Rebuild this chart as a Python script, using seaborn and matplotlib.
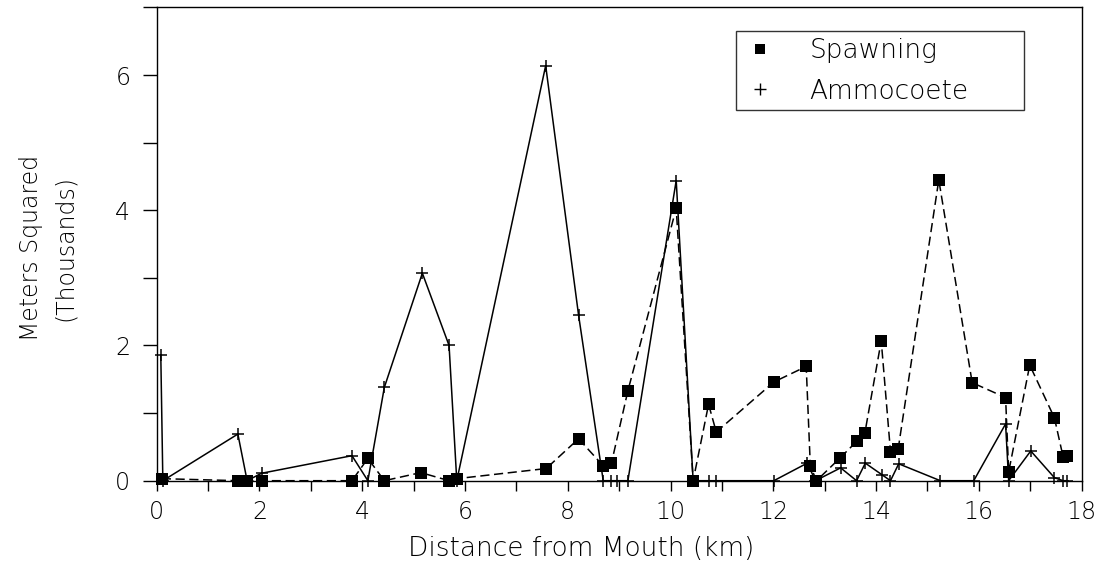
import matplotlib
matplotlib.use("Agg")
import matplotlib.pyplot as plt
from matplotlib.lines import Line2D
from matplotlib.ticker import MultipleLocator
import seaborn as sns
import pandas as pd

# ---- data (thousands of square meters vs km from mouth) ----
spawn_x = [0.10, 1.59, 1.75, 2.04, 3.80, 4.11, 4.43, 5.14, 5.69, 5.84, 7.58, 8.21,
           8.69, 8.85, 9.17, 10.11, 10.44, 10.74, 10.89, 12.01, 12.64, 12.72, 12.84,
           13.29, 13.62, 13.78, 14.10, 14.28, 14.43, 15.22, 15.87, 16.52, 16.58,
           16.99, 17.47, 17.64, 17.72]
spawn_y = [0.03, 0.0, 0.0, 0.0, 0.0, 0.33, 0.0, 0.12, 0.0, 0.03, 0.18, 0.62,
           0.22, 0.26, 1.33, 4.03, 0.0, 1.13, 0.72, 1.46, 1.69, 0.22, 0.0,
           0.33, 0.58, 0.70, 2.07, 0.43, 0.47, 4.45, 1.45, 1.23, 0.13,
           1.71, 0.93, 0.35, 0.36]

ammo_x = [0.08, 0.12, 1.58, 1.76, 2.04, 3.80, 4.11, 4.43, 5.17, 5.69, 5.84, 7.57,
          8.21, 8.69, 8.85, 8.96, 9.17, 10.11, 10.44, 10.74, 10.89, 12.01, 12.66,
          12.82, 13.31, 13.62, 13.79, 14.12, 14.28, 14.44, 15.25, 15.90, 16.52,
          16.58, 17.01, 17.47, 17.64, 17.72]
ammo_y = [1.86, 0.0, 0.69, 0.0, 0.11, 0.37, 0.0, 1.38, 3.07, 2.00, 0.0, 6.14,
          2.45, 0.0, 0.0, 0.0, 0.0, 4.44, 0.0, 0.0, 0.0, 0.0, 0.26,
          0.0, 0.19, 0.0, 0.26, 0.085, 0.0, 0.25, 0.0, 0.0, 0.84,
          0.0, 0.44, 0.045, 0.0, 0.0]

series_names = ["Spawning", "Ammocoete"]
x_ticks = [0, 2, 4, 6, 8, 10, 12, 14, 16, 18]
y_ticks = [0, 2, 4, 6]

sns.set_style("ticks")
plt.rcParams["font.family"] = ["DejaVu Sans"]
plt.rcParams["font.weight"] = "light"
plt.rcParams["axes.labelweight"] = "light"
plt.rcParams["text.color"] = "black"
plt.rcParams["axes.labelcolor"] = "black"
plt.rcParams["xtick.color"] = "black"
plt.rcParams["ytick.color"] = "black"

fig = plt.figure(figsize=(11.12, 5.67), dpi=100)
ax = fig.add_axes([0.1409, 0.1522, 0.8318, 0.8346])

df_s = pd.DataFrame({"x": spawn_x, "y": spawn_y})
df_a = pd.DataFrame({"x": ammo_x, "y": ammo_y})

sns.lineplot(data=df_a, x="x", y="y", ax=ax, sort=False, estimator=None,
             color="black", linewidth=1.1, linestyle="-", marker="+",
             markersize=9, markeredgewidth=1.1, markeredgecolor="black",
             clip_on=False)
sns.lineplot(data=df_s, x="x", y="y", ax=ax, sort=False, estimator=None,
             color="black", linewidth=1.1, linestyle=(0, (6, 3)), marker="s",
             markersize=8, markeredgewidth=0, markerfacecolor="black",
             clip_on=False)

ax.set_xlim(0, 18)
ax.set_ylim(0, 7)
ax.set_xticks(x_ticks)
ax.set_yticks(y_ticks)
ax.xaxis.set_minor_locator(MultipleLocator(1))
ax.yaxis.set_minor_locator(MultipleLocator(1))
ax.tick_params(axis="x", which="both", direction="out", length=7, width=1,
               color="black", labelcolor="black", labelsize=17, pad=7)
ax.tick_params(axis="y", which="both", direction="out", length=10, width=1,
               color="black", labelcolor="black", labelsize=17, pad=9)
for sp in ax.spines.values():
    sp.set_visible(True)
    sp.set_color("black")
    sp.set_linewidth(1.0)

ax.set_xlabel("Distance from Mouth (km)", fontsize=19, color="black",
              fontweight="light")
ax.xaxis.set_label_coords(0.459, -0.116)
ax.set_ylabel("Meters Squared\n(Thousands)", fontsize=17, linespacing=1.55,
              color="black", fontweight="light")
ax.yaxis.set_label_coords(-0.086, 0.492)

handles = [
    Line2D([], [], linestyle="none", marker="s", markersize=7, color="black",
           markeredgewidth=0),
    Line2D([], [], linestyle="none", marker="+", markersize=8, color="black",
           markeredgewidth=1.0),
]
leg = ax.legend(handles, series_names, loc="upper left",
                bbox_to_anchor=(0.626, 0.950, 0.312, 0.0), mode="expand",
                fontsize=19, frameon=True, fancybox=False, shadow=False,
                borderpad=0.25, handlelength=1.35, handletextpad=1.2,
                labelspacing=0.6, borderaxespad=0)
leg.get_frame().set_edgecolor("black")
leg.get_frame().set_linewidth(1.0)
for t in leg.get_texts():
    t.set_color("black")
    t.set_fontweight("light")

fig.savefig("out.png", dpi=100, facecolor="white")
